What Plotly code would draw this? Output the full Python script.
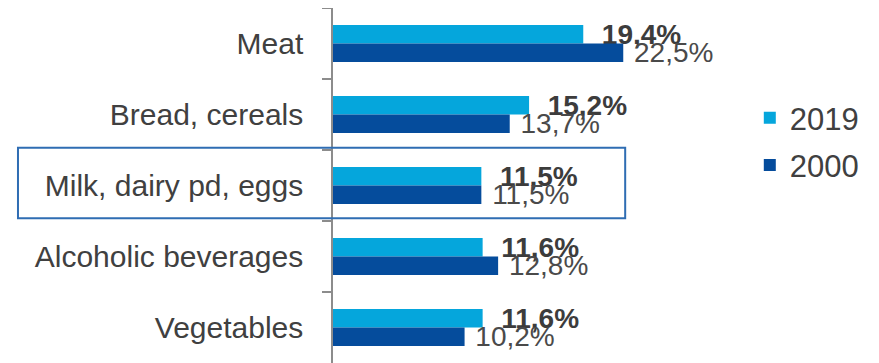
import plotly.graph_objects as go

categories = ["Meat", "Bread, cereals", "Milk, dairy pd, eggs", "Alcoholic beverages", "Vegetables"]
share_2019 = [19.4, 15.2, 11.5, 11.6, 11.6]
share_2000 = [22.5, 13.7, 11.5, 12.8, 10.2]


def pct(v):
    return f"{v:.1f}%".replace(".", ",")


fig = go.Figure()

fig.add_trace(go.Bar(y=categories, x=share_2019, name="2019", orientation="h",
                     marker=dict(color="#05a6dc", line=dict(width=0)),
                     text=["  " + pct(v) for v in share_2019], textposition="outside",
                     textfont=dict(size=28, color="#3c3c3c", family="Liberation Sans", weight="bold"),
                     legendgroup="a", cliponaxis=False, constraintext="none"))
fig.add_trace(go.Bar(y=categories, x=share_2000, name="2000", orientation="h",
                     marker=dict(color="#054c9c", line=dict(width=0)),
                     text=[" " + pct(v) for v in share_2000], textposition="outside",
                     textfont=dict(size=28, color="#4a4a4a", family="Liberation Sans"),
                     legendgroup="b", cliponaxis=False, constraintext="none"))

# frame around the milk row
fig.add_shape(type="rect", xref="paper", yref="y", x0=-0.814, x1=0.755, y0=1.47, y1=2.46,
              line=dict(color="#2f6db3", width=2), layer="above")

# the page body adds an 8px offset, so margins are trimmed to compensate
fig.update_layout(
    width=879, height=363,
    margin=dict(l=325, r=167, t=0, b=8),
    paper_bgcolor="white", plot_bgcolor="white",
    barmode="group", bargap=0.48, bargroupgap=0,
    font=dict(family="Liberation Sans, Arial, sans-serif", color="#404040"),
    showlegend=True,
    legend=dict(x=1.077, xanchor="left", y=0.624, yanchor="middle",
                font=dict(size=31, color="#404040"), tracegroupgap=4,
                itemwidth=30, bgcolor="rgba(0,0,0,0)"),
)
fig.update_xaxes(range=[0, 30], showgrid=False, showticklabels=False, zeroline=False,
                 showline=False, fixedrange=True)
fig.update_yaxes(autorange="reversed", showgrid=False, showline=True, linecolor="#8c8c8c",
                 linewidth=1.5, ticks="outside", tickson="boundaries", ticklen=9,
                 tickcolor="#8c8c8c", tickwidth=1.5, ticklabelstandoff=22,
                 tickfont=dict(size=30, color="#404040"))

fig.write_html("out.html")
